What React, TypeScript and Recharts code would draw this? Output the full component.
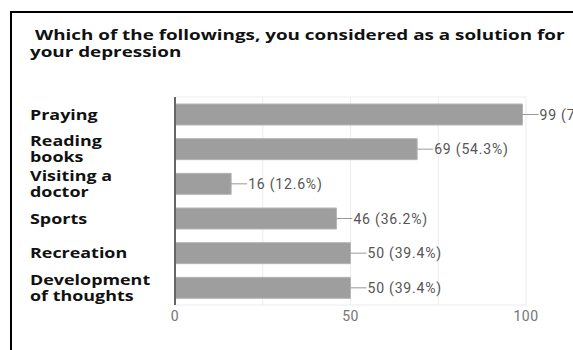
import React from 'react';
import {
  BarChart,
  Bar,
  XAxis,
  YAxis,
  CartesianGrid,
  LabelList,
} from 'recharts';

const categories = [
  'Praying',
  'Reading books',
  'Visiting a doctor',
  'Sports',
  'Recreation',
  'Development of thoughts',
];
const counts = [99, 69, 16, 46, 50, 50];
const percents = ['78%', '54.3%', '12.6%', '36.2%', '39.4%', '39.4%'];
const xTicks = [0, 25, 50, 75, 100];
const xTickLabels = ['0', '', '50', '', '100'];

const data = categories.map((name, i) => ({
  name,
  value: counts[i],
  label: `${counts[i]} (${percents[i]})`,
}));

// break long category names into lines like the original form chart
const wrap = (text: string, max = 11) => {
  const lines: string[] = [];
  let cur = '';
  text.split(' ').forEach((w) => {
    const next = cur ? cur + ' ' + w : w;
    if (next.length > max && cur) {
      lines.push(cur);
      cur = w;
    } else {
      cur = next;
    }
  });
  if (cur) lines.push(cur);
  return lines;
};

const CategoryTick = (props: any) => {
  const { y, payload } = props;
  const lines = wrap(payload.value);
  const lh = 16;
  const start = y - ((lines.length - 1) * lh) / 2;
  // the source image is stretched sideways, so widen the bold labels a bit
  return (
    <g transform="translate(30,0) scale(1.28,1)">
      {lines.map((l, i) => (
        <text
          key={i}
          x={0}
          y={start + i * lh}
          textAnchor="start"
          dominantBaseline="central"
          fontFamily="'Open Sans', sans-serif"
          fontWeight={700}
          fontSize={14}
          fill="#111"
        >
          {l}
        </text>
      ))}
    </g>
  );
};

const ValueTick = (props: any) => {
  const { x, y, index } = props;
  const txt = xTickLabels[index];
  if (!txt) return null;
  return (
    <text
      x={x}
      y={y + 8}
      textAnchor="middle"
      fontFamily="Roboto, sans-serif"
      fontSize={14}
      letterSpacing={0.5}
      fill="#757575"
    >
      {txt}
    </text>
  );
};

const BarValue = (props: any) => {
  const { x, y, width, height, index } = props;
  const x0 = x + width;
  const cy = y + height / 2;
  return (
    <g>
      <line x1={x0} y1={cy} x2={x0 + 16} y2={cy} stroke="#999" strokeWidth={1} />
      <text
        x={x0 + 17}
        y={cy}
        dominantBaseline="central"
        fontFamily="Roboto, sans-serif"
        fontSize={14}
        letterSpacing={0.8}
        fill="#555"
      >
        {data[index].label}
      </text>
    </g>
  );
};

export default function App() {
  return (
    <div
      style={{
        position: 'absolute',
        left: 0,
        top: 0,
        width: 573,
        height: 350,
        overflow: 'hidden',
        background: '#fff',
      }}
    >
      <div
        style={{
          position: 'absolute',
          left: 10,
          top: 11,
          width: 700,
          height: 500,
          borderTop: '2px solid #000',
          borderLeft: '2px solid #000',
        }}
      />
      <div
        style={{
          position: 'absolute',
          left: 35,
          top: 26,
          fontFamily: "'Open Sans', sans-serif",
          fontWeight: 700,
          fontSize: 15,
          lineHeight: '17px',
          color: '#111',
          whiteSpace: 'nowrap',
          transform: 'scaleX(1.255)',
          transformOrigin: 'left top',
        }}
      >
        Which of the followings, you considered as a solution for
        <div style={{ marginLeft: -4 }}>your depression</div>
      </div>
      <div style={{ position: 'absolute', left: 0, top: 0 }}>
        <BarChart
          width={573}
          height={350}
          data={data}
          layout="vertical"
          margin={{ top: 97, right: 47, bottom: 15, left: 10 }}
        >
          <CartesianGrid
            stroke="#ececec"
            horizontalCoordinatesGenerator={({ offset }: any) => [
              offset.top,
              offset.top + offset.height,
            ]}
          />
          <XAxis
            type="number"
            domain={[0, 100]}
            ticks={xTicks}
            axisLine={false}
            tickLine={false}
            height={30}
            tick={<ValueTick />}
          />
          <YAxis
            type="category"
            dataKey="name"
            width={165}
            axisLine={{ stroke: '#666', strokeWidth: 2 }}
            tickLine={false}
            tick={<CategoryTick />}
          />
          <Bar
            dataKey="value"
            fill="#9e9e9e"
            stroke="#b5b5b5"
            strokeWidth={1}
            barSize={21}
            isAnimationActive={false}
          >
            <LabelList dataKey="label" content={<BarValue />} />
          </Bar>
        </BarChart>
      </div>
    </div>
  );
}
